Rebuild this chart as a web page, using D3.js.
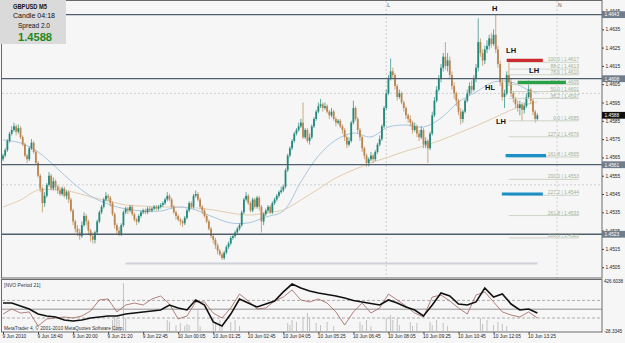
<!DOCTYPE html>
<html>
<head>
<meta charset="utf-8">
<script src="https://cdn.jsdelivr.net/npm/d3@7"></script>
<style>
  body { margin: 0; background: #fff; }
  svg { display: block; font-family: "Liberation Sans", Arial, sans-serif; }
</style>
</head>
<body>
<div id="chart"></div>
<script>
// ---- data (GBPUSD M5, 9-10 Jun 2010) ----
const firstOpen = 1.4564;
const closes = [
  1.4566,1.4569,1.4574,1.4578,1.4580,1.4582,1.4579,1.4581,1.4576,1.4572,
  1.4566,1.4564,1.4570,1.4573,1.4568,1.4562,1.4555,1.4548,1.4540,1.4544,
  1.4550,1.4555,1.4548,1.4552,1.4549,1.4547,1.4545,1.4548,1.4544,1.4546,
  1.4542,1.4536,1.4530,1.4526,1.4524,1.4522,1.4528,1.4533,1.4530,1.4525,
  1.4522,1.4520,1.4524,1.4530,1.4535,1.4538,1.4542,1.4544,1.4543,1.4540,
  1.4534,1.4528,1.4525,1.4523,1.4528,1.4535,1.4537,1.4536,1.4538,1.4534,
  1.4531,1.4530,1.4533,1.4535,1.4536,1.4535,1.4537,1.4536,1.4537,1.4538,
  1.4537,1.4538,1.4539,1.4540,1.4542,1.4544,1.4542,1.4538,1.4535,1.4533,
  1.4531,1.4530,1.4529,1.4532,1.4536,1.4540,1.4538,1.4544,1.4545,1.4542,
  1.4538,1.4536,1.4533,1.4530,1.4526,1.4522,1.4520,1.4517,1.4514,1.4512,
  1.4510,1.4513,1.4516,1.4518,1.4521,1.4522,1.4524,1.4526,1.4528,1.4535,
  1.4542,1.4544,1.4540,1.4536,1.4542,1.4538,1.4543,1.4538,1.4530,1.4534,
  1.4536,1.4538,1.4535,1.4540,1.4542,1.4544,1.4546,1.4547,1.4549,1.4558,
  1.4566,1.4570,1.4574,1.4578,1.4580,1.4582,1.4584,1.4576,1.4580,1.4574,
  1.4576,1.4582,1.4586,1.4590,1.4593,1.4594,1.4592,1.4593,1.4590,1.4588,
  1.4590,1.4586,1.4584,1.4585,1.4582,1.4580,1.4576,1.4572,1.4574,1.4584,
  1.4592,1.4586,1.4580,1.4576,1.4570,1.4566,1.4562,1.4564,1.4566,1.4564,
  1.4568,1.4572,1.4575,1.4582,1.4592,1.4600,1.4608,1.4612,1.4610,1.4604,
  1.4598,1.4600,1.4595,1.4592,1.4588,1.4586,1.4584,1.4580,1.4582,1.4578,
  1.4576,1.4580,1.4572,1.4574,1.4570,1.4578,1.4588,1.4596,1.4602,1.4608,
  1.4614,1.4620,1.4615,1.4618,1.4610,1.4604,1.4600,1.4596,1.4590,1.4586,
  1.4590,1.4596,1.4600,1.4604,1.4602,1.4608,1.4614,1.4628,1.4622,1.4618,
  1.4624,1.4626,1.4630,1.4627,1.4632,1.4624,1.4616,1.4606,1.4598,1.4600,
  1.4610,1.4606,1.4600,1.4597,1.4594,1.4592,1.4594,1.4591,1.4593,1.4598,
  1.4602,1.4596,1.4590,1.4586,1.4588
];
const highs = [
  1.4567,1.4570,1.4575,1.4579,1.4582,1.4584,1.4583,1.4583,1.4582,1.4577,
  1.4573,1.4567,1.4571,1.4575,1.4574,1.4569,1.4563,1.4556,1.4549,1.4546,
  1.4551,1.4557,1.4556,1.4554,1.4553,1.4550,1.4549,1.4549,1.4549,1.4547,
  1.4547,1.4543,1.4537,1.4531,1.4528,1.4526,1.4530,1.4535,1.4534,1.4531,
  1.4526,1.4524,1.4525,1.4531,1.4536,1.4539,1.4543,1.4546,1.4545,1.4544,
  1.4541,1.4535,1.4529,1.4527,1.4529,1.4536,1.4538,1.4538,1.4539,1.4539,
  1.4535,1.4532,1.4534,1.4536,1.4537,1.4537,1.4538,1.4538,1.4538,1.4539,
  1.4539,1.4539,1.4540,1.4541,1.4543,1.4546,1.4545,1.4543,1.4539,1.4536,
  1.4534,1.4532,1.4531,1.4533,1.4537,1.4541,1.4541,1.4545,1.4547,1.4546,
  1.4543,1.4539,1.4537,1.4534,1.4531,1.4527,1.4523,1.4521,1.4518,1.4515,
  1.4513,1.4514,1.4517,1.4519,1.4522,1.4523,1.4525,1.4527,1.4529,1.4536,
  1.4543,1.4546,1.4545,1.4541,1.4543,1.4543,1.4544,1.4544,1.4539,1.4535,
  1.4537,1.4539,1.4539,1.4541,1.4543,1.4545,1.4547,1.4549,1.4550,1.4559,
  1.4567,1.4571,1.4575,1.4579,1.4581,1.4584,1.4586,1.4595,1.4581,1.4581,
  1.4578,1.4583,1.4587,1.4591,1.4595,1.4597,1.4595,1.4595,1.4594,1.4591,
  1.4592,1.4591,1.4587,1.4586,1.4586,1.4583,1.4581,1.4577,1.4576,1.4585,
  1.4596,1.4593,1.4587,1.4581,1.4577,1.4571,1.4567,1.4565,1.4568,1.4567,
  1.4569,1.4573,1.4577,1.4583,1.4593,1.4602,1.4610,1.4619,1.4614,1.4611,
  1.4605,1.4602,1.4601,1.4596,1.4593,1.4589,1.4588,1.4585,1.4584,1.4583,
  1.4580,1.4582,1.4581,1.4576,1.4575,1.4579,1.4590,1.4598,1.4604,1.4610,
  1.4616,1.4622,1.4628,1.4622,1.4620,1.4612,1.4606,1.4601,1.4597,1.4592,
  1.4591,1.4597,1.4602,1.4606,1.4607,1.4610,1.4616,1.4641,1.4630,1.4624,
  1.4626,1.4629,1.4632,1.4633,1.4635,1.4643,1.4626,1.4618,1.4608,1.4602,
  1.4612,1.4617,1.4608,1.4601,1.4598,1.4596,1.4596,1.4595,1.4595,1.4600,
  1.4607,1.4603,1.4597,1.4591,1.4589
];
const lows = [
  1.4563,1.4565,1.4568,1.4573,1.4577,1.4579,1.4577,1.4578,1.4575,1.4571,
  1.4565,1.4562,1.4563,1.4569,1.4567,1.4561,1.4554,1.4546,1.4535,1.4538,
  1.4543,1.4549,1.4547,1.4547,1.4547,1.4545,1.4544,1.4544,1.4543,1.4542,
  1.4540,1.4535,1.4528,1.4524,1.4522,1.4520,1.4521,1.4527,1.4528,1.4523,
  1.4519,1.4518,1.4518,1.4523,1.4529,1.4534,1.4537,1.4541,1.4541,1.4538,
  1.4533,1.4526,1.4523,1.4522,1.4522,1.4527,1.4534,1.4534,1.4535,1.4533,
  1.4530,1.4528,1.4529,1.4532,1.4534,1.4534,1.4534,1.4535,1.4535,1.4536,
  1.4536,1.4536,1.4537,1.4538,1.4539,1.4541,1.4541,1.4537,1.4534,1.4531,
  1.4530,1.4528,1.4527,1.4528,1.4531,1.4535,1.4537,1.4537,1.4543,1.4541,
  1.4537,1.4534,1.4532,1.4529,1.4525,1.4521,1.4518,1.4515,1.4512,1.4511,
  1.4509,1.4509,1.4512,1.4515,1.4517,1.4520,1.4521,1.4523,1.4525,1.4527,
  1.4534,1.4541,1.4539,1.4535,1.4535,1.4537,1.4537,1.4536,1.4524,1.4528,
  1.4533,1.4535,1.4534,1.4534,1.4539,1.4541,1.4543,1.4545,1.4546,1.4548,
  1.4557,1.4565,1.4569,1.4573,1.4577,1.4579,1.4581,1.4575,1.4575,1.4573,
  1.4572,1.4575,1.4581,1.4585,1.4589,1.4592,1.4590,1.4591,1.4589,1.4586,
  1.4587,1.4585,1.4582,1.4583,1.4581,1.4578,1.4574,1.4570,1.4571,1.4573,
  1.4583,1.4585,1.4578,1.4574,1.4568,1.4564,1.4560,1.4560,1.4563,1.4562,
  1.4563,1.4567,1.4571,1.4574,1.4581,1.4591,1.4599,1.4607,1.4608,1.4602,
  1.4596,1.4597,1.4594,1.4590,1.4586,1.4584,1.4582,1.4578,1.4579,1.4576,
  1.4574,1.4575,1.4570,1.4570,1.4562,1.4569,1.4577,1.4587,1.4595,1.4601,
  1.4606,1.4612,1.4613,1.4612,1.4608,1.4602,1.4597,1.4593,1.4588,1.4583,
  1.4584,1.4589,1.4595,1.4599,1.4600,1.4601,1.4606,1.4612,1.4620,1.4615,
  1.4616,1.4622,1.4624,1.4625,1.4626,1.4622,1.4614,1.4604,1.4596,1.4592,
  1.4599,1.4604,1.4598,1.4595,1.4592,1.4590,1.4588,1.4585,1.4589,1.4592,
  1.4597,1.4594,1.4588,1.4584,1.4585
];

// moving averages, read every 8 bars
const maIdx = [0,8,16,24,32,40,48,56,64,72,80,88,96,104,112,120,128,136,144,152,160,168,176,184,192,200,208,216,224,232,240,244];
const maFast = [1.45745,1.45729,1.45680,1.45598,1.45510,1.45439,1.45395,1.45368,1.45357,1.45357,1.45379,1.45363,1.45324,1.45292,1.45292,1.45324,
                1.45357,1.45516,1.45658,1.45745,1.45783,1.45762,1.45816,1.45827,1.45816,1.45865,1.45953,1.46007,1.46062,1.46062,1.46018,1.46002];
const maSlow = [1.45379,1.45417,1.45472,1.45472,1.45461,1.45434,1.45412,1.45390,1.45384,1.45379,1.45379,1.45374,1.45363,1.45346,1.45335,1.45346,
                1.45363,1.45417,1.45477,1.45538,1.45581,1.45620,1.45652,1.45685,1.45712,1.45745,1.45783,1.45822,1.45865,1.45909,1.45942,1.45953];

// NVO Period 21 sub-window, read every 4 bars
const nvoIdx = d3.range(0, 245, 4);
const nvoMain = [226,226,199,172,126,108,99,72,63,72,90,99,108,108,126,135,145,154,163,208,181,163,254,208,54,17,126,263,226,190,217,245,
                 327,399,363,336,317,304,290,272,249,236,222,208,254,226,190,163,108,208,317,290,217,208,236,363,281,308,217,163,172,135];
const nvoSignal = [126,172,135,145,17,81,90,99,90,108,154,254,263,145,208,226,208,263,290,217,81,108,236,236,135,90,181,308,245,172,181,245,
                   281,345,254,236,263,226,145,26,145,226,135,181,308,254,199,135,99,281,299,245,181,126,299,327,236,145,117,99,145,90];
const histIdx = [50,51,52,53,55,56,75,76,79,81,83,84,85,89,90,96,97,99,100,104,106,108,130,131,132,134,137,139,140,143,145,148,151,
                 163,164,166,168,175,177,178,180,181,186,187,189,195,196,198,201,203,218,219,221,224,226,228,230];
const histVal = [72,99,90,72,408,90,72,54,26,45,17,36,26,163,17,90,54,72,26,54,72,17,45,26,72,54,99,135,90,45,26,54,17,
                 54,26,72,17,90,117,72,90,26,54,17,45,54,26,72,45,17,90,36,72,26,54,36,17];
const nvoRange = [-28.3345, 426.6038];
const nvoLevels = [250, 170, 90];

// axis labels
const priceTicks = d3.range(0, 15).map(k => 1.4505 + k * 0.001);
const timeLabels = ['9 Jun 2010','9 Jun 18:40','9 Jun 20:00','9 Jun 21:20','9 Jun 22:45','10 Jun 00:05','10 Jun 01:25','10 Jun 02:45',
                    '10 Jun 04:05','10 Jun 05:25','10 Jun 06:45','10 Jun 08:05','10 Jun 09:25','10 Jun 10:45','10 Jun 12:05','10 Jun 13:25'];

// chart objects
const hLevels = [1.4643, 1.4608, 1.4561, 1.4523];
const roundLevels = [1.4600, 1.4550];
const vLines = [{ idx: 175, name: 'L' }, { idx: 253, name: 'N' }];
const trendLine = { from: 56, to: 244, price: 1.4507 };
const fibHigh = 1.4617, fibLow = 1.4585;
const fibRatios = [0, 0.382, 0.5, 0.618, 0.786, 0.882, 1, -0.272, -0.618, -1, -1.272, -1.618, -2];
const fibNames = ['0.0','38.2','50.0','61.8','78.6','88.2','100.0','127.2','161.8','200.0','227.2','261.8','300.0'];
const zones = [
  { from: 230, to: 246.5, price: 1.4618, color: '#cc2a2f' },
  { from: 235, to: 257, price: 1.4606, color: '#27a046' },
  { from: 229.5, to: 248, price: 1.4566, color: '#1b8fc6' },
  { from: 227.8, to: 246.5, price: 1.4545, color: '#1b8fc6' }
];
const swingLabels = [
  { text: 'H', idx: 224.5, price: 1.4645 },
  { text: 'LH', idx: 232, price: 1.4622 },
  { text: 'LH', idx: 242.5, price: 1.4611 },
  { text: 'HL', idx: 222.4, price: 1.4602 },
  { text: 'LH', idx: 227.4, price: 1.4583 }
];

// ---- layout ----
const W = 625, H = 343;
const plotL = 2, plotR = 602, mainT = 1, mainB = 278, indT = 280, indB = 332;

const x = d3.scaleLinear().domain([0, 274]).range([3, 3 + 274 * 2.19]);
const y = d3.scaleLinear().domain([1.4505, 1.4645]).range([267.2, 11]);
const yInd = d3.scaleLinear().domain(nvoRange).range([331, 281]);

const svg = d3.select('#chart').append('svg').attr('width', W).attr('height', H);

svg.append('rect').attr('width', W).attr('height', H).attr('fill', '#f6f6f6');

const defs = svg.append('defs');
defs.append('clipPath').attr('id', 'clipMain')
  .append('rect').attr('x', plotL).attr('y', mainT).attr('width', plotR - plotL).attr('height', mainB - mainT);
defs.append('clipPath').attr('id', 'clipInd')
  .append('rect').attr('x', plotL).attr('y', indT).attr('width', plotR - plotL).attr('height', indB - indT);

const main = svg.append('g').attr('clip-path', 'url(#clipMain)');
const ind = svg.append('g').attr('clip-path', 'url(#clipInd)');

// round-number dotted levels and vertical markers
main.selectAll('line.round').data(roundLevels).join('line')
  .attr('x1', plotL).attr('x2', plotR).attr('y1', d => y(d)).attr('y2', d => y(d))
  .attr('stroke', '#c4c4c4').attr('stroke-width', 0.8).attr('stroke-dasharray', '2,2');
main.selectAll('line.vline').data(vLines).join('line')
  .attr('x1', d => x(d.idx)).attr('x2', d => x(d.idx)).attr('y1', mainT).attr('y2', mainB)
  .attr('stroke', '#c4c4c4').attr('stroke-width', 0.8).attr('stroke-dasharray', '2,2');

// trend line at the bottom
main.append('line')
  .attr('x1', x(trendLine.from)).attr('x2', x(trendLine.to))
  .attr('y1', y(trendLine.price)).attr('y2', y(trendLine.price))
  .attr('stroke', '#cfd0da').attr('stroke-width', 2);

// moving averages
const maLine = vals => d3.line().x((d, i) => x(maIdx[i])).y(d => y(d)).curve(d3.curveCatmullRom)(vals);
main.append('path').attr('d', maLine(maSlow)).attr('fill', 'none').attr('stroke', '#e2cdb0').attr('stroke-width', 1);
main.append('path').attr('d', maLine(maFast)).attr('fill', 'none').attr('stroke', '#aac6e0').attr('stroke-width', 1);

// candles
const candles = closes.map((c, i) => ({ i, o: i ? closes[i - 1] : firstOpen, h: highs[i], l: lows[i], c }));
const bull = '#23897b', bear = '#b98550';
const cg = main.selectAll('g.candle').data(candles).join('g');
cg.append('line')
  .attr('x1', d => x(d.i)).attr('x2', d => x(d.i))
  .attr('y1', d => y(Math.max(d.h, d.o, d.c))).attr('y2', d => y(Math.min(d.l, d.o, d.c)))
  .attr('stroke', d => d.c >= d.o ? bull : bear).attr('stroke-width', 0.7);
cg.append('rect')
  .attr('x', d => x(d.i) - 0.9).attr('width', 1.8)
  .attr('y', d => y(Math.max(d.o, d.c)))
  .attr('height', d => Math.max(0.6, Math.abs(y(d.o) - y(d.c))))
  .attr('fill', d => d.c >= d.o ? bull : bear);

// horizontal levels
main.selectAll('line.level').data(hLevels).join('line')
  .attr('x1', plotL).attr('x2', plotR).attr('y1', d => y(d)).attr('y2', d => y(d))
  .attr('stroke', '#4f5e6b').attr('stroke-width', 1.3);

// fibonacci levels
const fib = fibRatios.map((r, k) => ({ r, name: fibNames[k], price: fibLow + r * (fibHigh - fibLow) }));
main.selectAll('line.fib').data(fib).join('line')
  .attr('x1', x(231)).attr('x2', x(263)).attr('y1', d => y(d.price)).attr('y2', d => y(d.price))
  .attr('stroke', '#c3cdb9').attr('stroke-width', 0.8);
main.selectAll('text.fib').data(fib).join('text')
  .attr('x', x(263)).attr('y', d => y(d.price) - 0.9)
  .attr('text-anchor', 'end').attr('font-size', 4.9).attr('fill', '#a3b096')
  .text(d => `${d.name} | ${d.price.toFixed(4)}`);

// zone bars
main.selectAll('line.zone').data(zones).join('line')
  .attr('x1', d => x(d.from)).attr('x2', d => x(d.to)).attr('y1', d => y(d.price)).attr('y2', d => y(d.price))
  .attr('stroke', d => d.color).attr('stroke-width', 3.2);

// swing labels
main.selectAll('text.swing').data(swingLabels).join('text')
  .attr('x', d => x(d.idx)).attr('y', d => y(d.price))
  .attr('text-anchor', 'middle').attr('font-size', 7.5).attr('font-weight', 'bold').attr('fill', '#111')
  .text(d => d.text);

svg.selectAll('text.vname').data(vLines).join('text')
  .attr('x', d => x(d.idx) + 1).attr('y', 7).attr('font-size', 5).attr('fill', '#555')
  .text(d => d.name);

// ---- indicator window ----
ind.selectAll('line.nvolvl').data(nvoLevels).join('line')
  .attr('x1', plotL).attr('x2', plotR).attr('y1', d => yInd(d)).attr('y2', d => yInd(d))
  .attr('stroke', (d, i) => i === 1 ? '#7a7a7a' : '#9a9a9a').attr('stroke-width', 0.8)
  .attr('stroke-dasharray', (d, i) => i === 1 ? null : '3,2');
ind.selectAll('line.hist').data(histIdx).join('line')
  .attr('x1', d => x(d)).attr('x2', d => x(d))
  .attr('y1', (d, i) => yInd(histVal[i])).attr('y2', yInd(nvoRange[0]))
  .attr('stroke', '#c2c2c2').attr('stroke-width', 1);
const nvoLine = vals => d3.line().x((d, i) => x(nvoIdx[i])).y(d => yInd(d))(vals);
ind.append('path').attr('d', nvoLine(nvoSignal)).attr('fill', 'none').attr('stroke', '#a0625c').attr('stroke-width', 0.8);
ind.append('path').attr('d', nvoLine(nvoMain)).attr('fill', 'none').attr('stroke', '#111').attr('stroke-width', 1.6);

svg.append('text').attr('x', 4).attr('y', 287).attr('font-size', 5).attr('fill', '#333').text('[NVO Period 21]');
svg.append('text').attr('x', 4).attr('y', 330).attr('font-size', 4.8).attr('fill', '#333')
  .text('MetaTrader 4, \u00a9 2001-2010 MetaQuotes Software Corp.');

// ---- frames ----
svg.append('rect').attr('x', 1.5).attr('y', 0.5).attr('width', plotR - 1.5).attr('height', mainB - 0.5)
  .attr('fill', 'none').attr('stroke', '#6a6a6a').attr('stroke-width', 1);
svg.append('rect').attr('x', 1.5).attr('y', indT - 0.5).attr('width', plotR - 1.5).attr('height', indB - indT + 0.5)
  .attr('fill', 'none').attr('stroke', '#6a6a6a').attr('stroke-width', 1);

// ---- axes ----
const axisY = svg.append('g').attr('transform', `translate(${plotR},0)`)
  .call(d3.axisRight(y).tickValues(priceTicks).tickFormat(d3.format('.4f')).tickSize(2).tickPadding(1.5));
axisY.select('.domain').remove();
axisY.selectAll('text').attr('font-size', 4.8).attr('fill', '#222');
axisY.selectAll('line').attr('stroke', '#444');

const boxes = hLevels.map(p => ({ p, bg: '#6f7d8c' })).concat([{ p: closes[closes.length - 1], bg: '#111' }]);
const bx = svg.selectAll('g.pbox').data(boxes).join('g').attr('transform', d => `translate(${plotR},${y(d.p)})`);
bx.append('rect').attr('x', 0).attr('y', -3.4).attr('width', 23).attr('height', 6.8).attr('fill', d => d.bg);
bx.append('text').attr('x', 2.5).attr('y', 1.8).attr('font-size', 4.8).attr('fill', '#fff').text(d => d.p.toFixed(4));

const indAxis = svg.append('g').attr('transform', `translate(${plotR},0)`);
indAxis.selectAll('text').data(nvoRange).join('text')
  .attr('x', 2).attr('y', d => yInd(d) + 1.8).attr('font-size', 4.6).attr('fill', '#222')
  .text(d => d.toFixed(4));

const timeIdx = timeLabels.map((t, k) => k * 16);
const axisX = svg.append('g').attr('transform', `translate(0,${indB})`)
  .call(d3.axisBottom(x).tickValues(timeIdx).tickFormat((d, k) => timeLabels[k]).tickSize(2).tickPadding(1));
axisX.select('.domain').remove();
axisX.selectAll('text').attr('font-size', 4.8).attr('fill', '#222').attr('text-anchor', 'start')
  .attr('dx', -1);
axisX.selectAll('line').attr('stroke', '#444');

// ---- info box ----
const info = svg.append('g');
info.append('rect').attr('x', 0).attr('y', 0).attr('width', 66).attr('height', 44).attr('fill', '#dadada');
const infoText = [
  { t: 'GBPUSD M5', cx: 30, y: 8.8, size: 7, w: 34, bold: true, fill: '#111' },
  { t: 'Candle  04:18', cx: 34, y: 18.2, size: 6.6, w: 42, bold: false, fill: '#111' },
  { t: 'Spread  2.0', cx: 34, y: 27.6, size: 6.6, w: 32, bold: false, fill: '#111' },
  { t: closes[closes.length - 1].toFixed(4), cx: 35, y: 40.6, size: 10.5, w: 34, bold: true, fill: '#1c8a1c' }
];
info.selectAll('text').data(infoText).join('text')
  .attr('x', d => d.cx - d.w / 2).attr('y', d => d.y)
  .attr('font-size', d => d.size).attr('font-weight', d => d.bold ? 'bold' : 'normal')
  .attr('fill', d => d.fill)
  .attr('textLength', d => d.w).attr('lengthAdjust', 'spacingAndGlyphs')
  .text(d => d.t);
</script>
</body>
</html>
